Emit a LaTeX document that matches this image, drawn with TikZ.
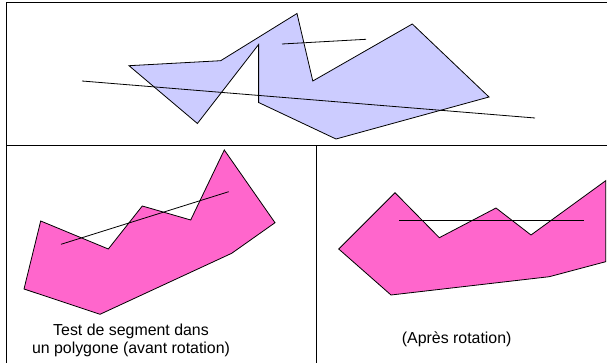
\documentclass[tikz,border=0pt]{standalone}
\usepackage{fontspec}
\setmainfont{Liberation Sans}
\usepackage{tikz}
\usetikzlibrary{positioning}
\definecolor{polyblue}{RGB}{204,204,255}
\definecolor{polypink}{RGB}{255,102,204}
\tikzset{
  frameline/.style={line width=1pt, color=black},
  polyshape/.style={draw=black, line width=0.8pt, line join=miter},
  segline/.style={draw=black, line width=0.8pt},
  caption/.style={align=center, font=\fontsize{15.9}{17.3}\selectfont, inner sep=0pt}
}
\begin{document}
\begin{tikzpicture}[x=1pt, y=-1pt]
  \useasboundingbox (0,0) rectangle (607,363);
  \clip (0,0) rectangle (607,363);

  % cadre
  \draw [frameline] (6,375) -- (6,3) -- (615,3);
  \draw [frameline] (6,145.5) -- (615,145.5);
  \draw [frameline] (316.7,145.5) -- (316.7,375);

  % polygone du haut
  \filldraw [polyshape, fill=polyblue] (129,65.7) -- (220.7,60.7) -- (297,13.5) -- (312.8,81)
    -- (412.3,24) -- (489,97) -- (336,139) -- (258.6,102.5) -- (258.6,44.5) -- (197.4,123.5) -- cycle;
  \coordinate (longA) at (82,81);
  \coordinate (longB) at (535,118);
  \coordinate (shortA) at (282,44);
  \coordinate (shortB) at (366,39.3);
  \draw [segline] (longA) -- (longB);
  \draw [segline] (shortA) -- (shortB);

  % avant rotation
  \filldraw [polyshape, fill=polypink] (40.7,221) -- (108.3,249) -- (142.3,206) -- (190.7,220)
    -- (224.3,150) -- (275,222.7) -- (231.7,253.3) -- (100,314.3) -- (24,289) -- cycle;
  \coordinate (avantA) at (61,244.3);
  \coordinate (avantB) at (228.7,191.7);
  \draw [segline] (avantA) -- (avantB);
  \node [caption] (avant) at (131,340.3) {Test de segment dans\\un polygone (avant rotation)};

  % apres rotation
  \filldraw [polyshape, fill=polypink] (338.7,249) -- (395,192.7) -- (439.3,237.7) -- (496,208)
    -- (531,235) -- (605.7,180.7) -- (605.7,261.7) -- (549.3,276.7) -- (391,295) -- cycle;
  \coordinate (apresA) at (399.3,220);
  \coordinate (apresB) at (584.3,220);
  \draw [segline] (apresA) -- (apresB);
  \node [caption] (apres) at (456.7,339.3) {(Après rotation)};
\end{tikzpicture}
\end{document}
